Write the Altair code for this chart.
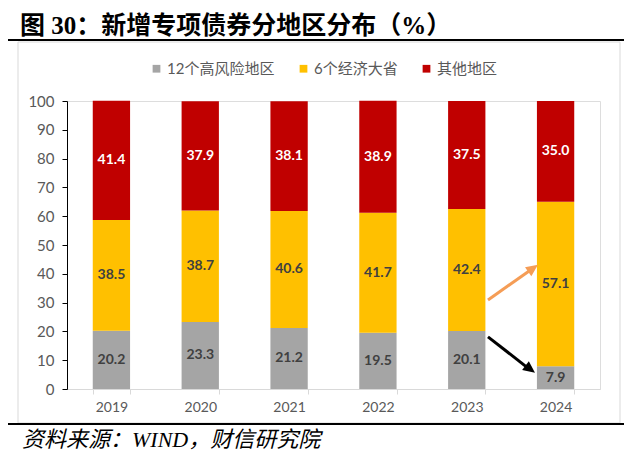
import altair as alt
import pandas as pd

years = ["2019", "2020", "2021", "2022", "2023", "2024"]
high_risk = [20.2, 23.3, 21.2, 19.5, 20.1, 7.9]
big_six = [38.5, 38.7, 40.6, 41.7, 42.4, 57.1]
others = [41.4, 37.9, 38.1, 38.9, 37.5, 35.0]
series_names = ["12个高风险地区", "6个经济大省", "其他地区"]
colors = ["#A5A5A5", "#FFC000", "#C00000"]
y_ticks = [0, 10, 20, 30, 40, 50, 60, 70, 80, 90, 100]

# annotation arrows (y in data units): start, line end, tip
orange_arrow = [30.9, 41.7, 43.1]
black_arrow = [18.1, 7.0, 5.6]

title_text = "图 30：新增专项债券分地区分布（%）"
source_text = "资料来源：WIND，财信研究院"

rows = []
for i, yr in enumerate(years):
    base = 0.0
    for s, vals in zip(series_names, [high_risk, big_six, others]):
        v = vals[i]
        rows.append({"year": yr, "series": s, "order": series_names.index(s),
                     "start": base, "end": base + v, "mid": base + v / 2,
                     "label": f"{v:.1f}"})
        base += v
df = pd.DataFrame(rows)

FONT = "Lato, Noto Sans CJK SC"

x_scale = alt.Scale(paddingInner=0.58, paddingOuter=0.29)
x_axis = alt.Axis(labelAngle=0, tickBand="extent", domainColor="#D9D9D9",
                  tickColor="#D9D9D9", tickSize=5, labelColor="#595959",
                  labelFontSize=14, labelPadding=6, labelFont=FONT)
y_scale = alt.Scale(domain=[0, 100])
y_axis = alt.Axis(values=y_ticks, grid=False, domainColor="black", tickColor="black",
                  tickSize=5, labelPadding=8, labelFontSize=15, labelColor="#595959",
                  labelFont=FONT, labelOverlap=False)


def yq(field):
    return alt.Y(field, type="quantitative", scale=y_scale, axis=y_axis, title=None)


def xn():
    return alt.X("year:N", sort=years, scale=x_scale, axis=x_axis, title=None)


bars = alt.Chart(df).mark_bar().encode(
    x=xn(),
    y=yq("start"),
    y2="end:Q",
    color=alt.Color("series:N", scale=alt.Scale(domain=series_names, range=colors),
                    legend=alt.Legend(title=None, orient="none", legendX=82, legendY=-40,
                                      direction="horizontal", symbolType="square",
                                      symbolSize=60, symbolStrokeWidth=0,
                                      labelFontSize=15, labelColor="#595959",
                                      labelFont=FONT, columnPadding=21, labelOffset=3)),
)

labels = alt.Chart(df).mark_text(fontWeight="bold", fontSize=14, font=FONT).encode(
    x=xn(),
    y=yq("mid"),
    text="label:N",
    color=alt.condition(alt.datum.series == "其他地区", alt.value("#FFFFFF"), alt.value("#404040")),
)

one = pd.DataFrame({"k": [0]})
frame = alt.Chart(one).mark_rect(fillOpacity=0, stroke="#D9D9D9", strokeWidth=1).encode(
    x=alt.value(-49), x2=alt.value(553), y=alt.value(-59), y2=alt.value(322))
top_line = alt.Chart(one).mark_rule(color="black", strokeWidth=2).encode(
    x=alt.value(-62), x2=alt.value(566), y=alt.value(-61))
bottom_line = alt.Chart(one).mark_rule(color="black", strokeWidth=2).encode(
    x=alt.value(-62), x2=alt.value(566), y=alt.value(323))
title = alt.Chart(one).mark_text(align="left", baseline="alphabetic", fontSize=25,
                                 fontWeight="bold", font="Liberation Serif, Noto Sans CJK SC",
                                 color="black").encode(
    x=alt.value(-47), y=alt.value(-67), text=alt.value(title_text))
source = alt.Chart(one).mark_text(align="left", baseline="alphabetic", fontSize=22,
                                  fontStyle="italic", font="Liberation Serif, Noto Sans CJK SC",
                                  color="black").encode(
    x=alt.value(-45), y=alt.value(346), text=alt.value(source_text))

arr = pd.DataFrame({"o0": [orange_arrow[0]], "o1": [orange_arrow[1]], "o2": [orange_arrow[2]],
                    "b0": [black_arrow[0]], "b1": [black_arrow[1]], "b2": [black_arrow[2]]})
HEAD = "M0,0 L0.55,1.2 L-0.55,1.2 Z"
o_line = alt.Chart(arr).mark_rule(color="#F59D56", strokeWidth=3).encode(
    x=alt.value(421), x2=alt.value(465), y=yq("o0"), y2="o1:Q")
o_head = alt.Chart(arr).mark_point(shape=HEAD, size=400, filled=True, opacity=1,
                                   color="#F59D56", angle=55).encode(
    x=alt.value(471), y=yq("o2"))
b_line = alt.Chart(arr).mark_rule(color="black", strokeWidth=3).encode(
    x=alt.value(421), x2=alt.value(462), y=yq("b0"), y2="b1:Q")
b_head = alt.Chart(arr).mark_point(shape=HEAD, size=400, filled=True, opacity=1,
                                   color="black", angle=127.5).encode(
    x=alt.value(468), y=yq("b2"))

chart = alt.layer(frame, top_line, bottom_line, title, source, bars, labels,
                  o_line, o_head, b_line, b_head).properties(
    width=533, height=288,
    autosize=alt.AutoSizeParams(type="none"),
    padding={"left": 59, "top": 93, "right": 24, "bottom": 62},
).configure_view(stroke=None).configure(background="white")

chart.save("out.html", embed_options={"renderer": "svg", "actions": False})
